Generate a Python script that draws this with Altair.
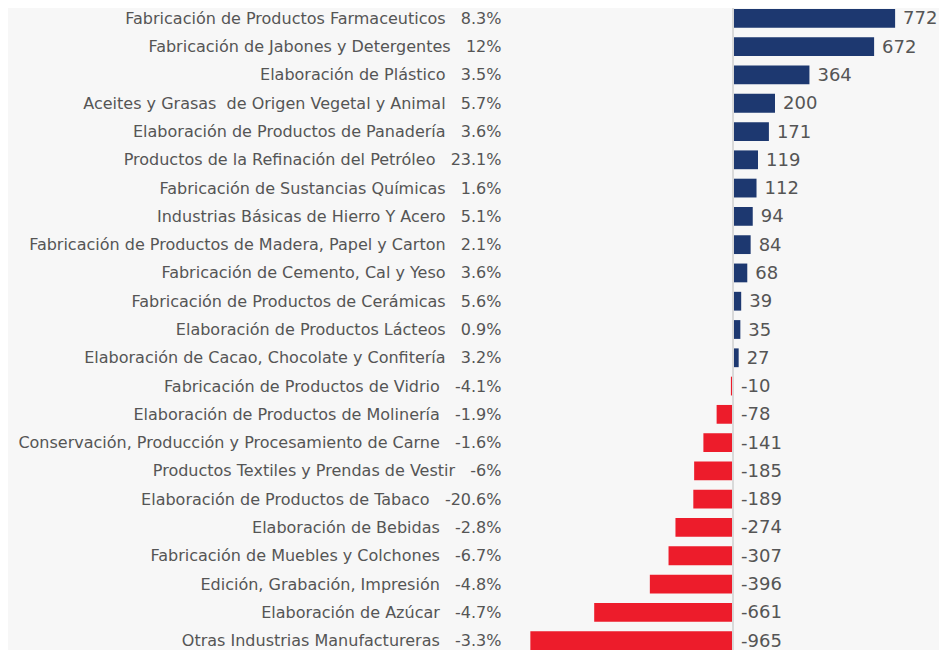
import altair as alt
import pandas as pd

names = [
    "Fabricación de Productos Farmaceuticos",
    "Fabricación de Jabones y Detergentes",
    "Elaboración de Plástico",
    "Aceites y Grasas  de Origen Vegetal y Animal",
    "Elaboración de Productos de Panadería",
    "Productos de la Refinación del Petróleo",
    "Fabricación de Sustancias Químicas",
    "Industrias Básicas de Hierro Y Acero",
    "Fabricación de Productos de Madera, Papel y Carton",
    "Fabricación de Cemento, Cal y Yeso",
    "Fabricación de Productos de Cerámicas",
    "Elaboración de Productos Lácteos",
    "Elaboración de Cacao, Chocolate y Confitería",
    "Fabricación de Productos de Vidrio",
    "Elaboración de Productos de Molinería",
    "Conservación, Producción y Procesamiento de Carne",
    "Productos Textiles y Prendas de Vestir",
    "Elaboración de Productos de Tabaco",
    "Elaboración de Bebidas",
    "Fabricación de Muebles y Colchones",
    "Edición, Grabación, Impresión",
    "Elaboración de Azúcar",
    "Otras Industrias Manufactureras",
]
pcts = ["8.3%", "12%", "3.5%", "5.7%", "3.6%", "23.1%", "1.6%", "5.1%", "2.1%",
        "3.6%", "5.6%", "0.9%", "3.2%", "-4.1%", "-1.9%", "-1.6%", "-6%",
        "-20.6%", "-2.8%", "-6.7%", "-4.8%", "-4.7%", "-3.3%"]
values = [772, 672, 364, 200, 171, 119, 112, 94, 84, 68, 39, 35, 27,
          -10, -78, -141, -185, -189, -274, -307, -396, -661, -965]

gap = "\u00a0\u00a0\u00a0"
labels = [n.replace("  ", "\u00a0\u00a0") + gap + p for n, p in zip(names, pcts)]
df = pd.DataFrame({"label": labels, "value": values})
df["pos"] = df["value"].clip(lower=0)
df["txt"] = [str(v) for v in values]
df["sign"] = ["pos" if v >= 0 else "neg" for v in values]

y = alt.Y("label:N", sort=labels,
          scale=alt.Scale(range=[0, 641], paddingInner=0.336, paddingOuter=0),
          axis=alt.Axis(title=None, domain=False, ticks=False, labelPadding=5,
                        labelFontSize=16, labelFont="DejaVu Sans",
                        labelColor="#555555", labelLimit=600, labelOffset=0.5))
xscale = alt.Scale(domain=[-1081, 981], nice=False, zero=False)

base = alt.Chart(df)
bars = base.mark_bar().encode(
    x=alt.X("value:Q", scale=xscale, axis=None),
    x2=alt.datum(0),
    y=y,
    color=alt.Color("sign:N", scale=alt.Scale(domain=["pos", "neg"],
                                              range=["#1d3870", "#ed1c2b"]),
                    legend=None),
)
zero = alt.Chart(pd.DataFrame({"z": [0]})).mark_rule(color="#d9d9d9", strokeWidth=2).encode(
    x=alt.X("z:Q", scale=xscale), y=alt.value(-3), y2=alt.value(700))
texts = base.mark_text(align="left", baseline="middle", dx=8, dy=1, fontSize=18,
                       font="DejaVu Sans", color="#555555").encode(
    x=alt.X("pos:Q", scale=xscale),
    y=y,
    text=alt.Text("txt:N"),
)

chart = alt.layer(bars, zero, texts).properties(
    width=433, height=641,
    autosize=alt.AutoSizeParams(type="none"),
    padding={"left": 498, "top": 1, "right": 0, "bottom": 0},
    background="#f7f7f7",
).configure_view(stroke=None)

chart.save("out.html", embed_options={"renderer": "svg", "actions": False})
